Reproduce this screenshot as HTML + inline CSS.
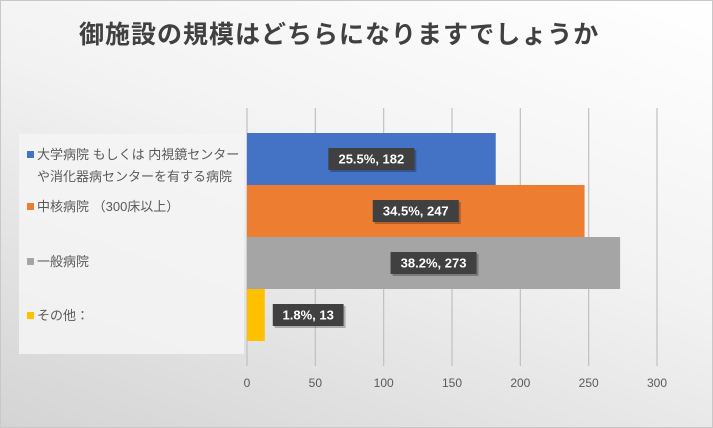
<!DOCTYPE html>
<html><head><meta charset="utf-8"><style>
body{margin:0}
#c{position:relative;width:713px;height:428px;overflow:hidden;background:linear-gradient(200deg,#ffffff 0%,#f2f2f2 45%,#d4d4d4 100%);border:1px solid #c8c8c8;box-sizing:border-box;font-family:"Liberation Sans","Noto Sans CJK JP",sans-serif}
#title{position:absolute;left:78px;top:14px;font-size:25px;font-weight:bold;color:#404040;letter-spacing:1px;white-space:nowrap}
#legend{position:absolute;left:18px;top:133px;width:225px;height:220px;background:rgba(245,245,245,0.85)}
.li{position:absolute;left:8px;font-size:13px;color:#595959;line-height:22px}
.sw{display:inline-block;width:7px;height:7px;margin-right:3px;vertical-align:1px}
</style></head><body>
<div id="c">
<div id="title">御施設の規模はどちらになりますでしょうか</div>
<div id="legend">
<div class="li" style="top:10px"><span class="sw" style="background:#4472c4"></span>大学病院 もしくは 内視鏡センター<br><span style="padding-left:10px">や消化器病センターを有する病院</span></div>
<div class="li" style="top:62px"><span class="sw" style="background:#ed7d31"></span>中核病院 （300床以上）</div>
<div class="li" style="top:117px"><span class="sw" style="background:#a5a5a5"></span>一般病院</div>
<div class="li" style="top:171px"><span class="sw" style="background:#ffc000"></span>その他：</div>
</div>
<svg id="svg" width="713" height="428" style="position:absolute;left:0;top:0"></svg>
</div>
<script>
const categories=["大学病院","中核病院","一般病院","その他"];
const values=[182,247,273,13];
const percents=["25.5%","34.5%","38.2%","1.8%"];
const colors=["#4472c4","#ed7d31","#a5a5a5","#ffc000"];
const ticks=[0,50,100,150,200,250,300];
const NS="http://www.w3.org/2000/svg";
const svg=document.getElementById('svg');
const x0=246,x1=656,xmax=300;
function xs(v){return x0+(x1-x0)*v/xmax;}
const top0=132,bandH=52;
function ys(i){return top0+i*bandH;}
function mk(t,a){const e=document.createElementNS(NS,t);for(const k in a)e.setAttribute(k,a[k]);svg.appendChild(e);return e;}
ticks.forEach(t=>{
 const l=mk('line',{x1:xs(t),x2:xs(t),y1:107,y2:365,stroke:'#c0c0c0','stroke-width':1.2});
 
 
 const tx=mk('text',{x:xs(t),y:386,'text-anchor':'middle','font-size':12,fill:'#595959','font-family':'Liberation Sans, sans-serif'});
 tx.textContent=t;
 
 
});
values.forEach((v,i)=>{
 const r=mk('rect',{x:xs(0),y:ys(i),width:xs(v)-xs(0),height:bandH,fill:colors[i]});
 
 
 const label=percents[i]+", "+v;
 const w=label.length*7.6+10,h=22;
 let cx=i===3?xs(v)+8+w/2:(xs(0)+xs(v))/2;
 const cy=ys(i)+bandH/2;
 const bg=mk('rect',{x:cx-w/2+2,y:cy-h/2+2,width:w,height:h,fill:'rgba(0,0,0,0.25)'});
 
 
 const b=mk('rect',{x:cx-w/2,y:cy-h/2,width:w,height:h,fill:'#404040'});
 
 
 const t=mk('text',{x:cx,y:cy+4.5,'text-anchor':'middle','font-size':13,'font-weight':'bold',fill:'#fff','font-family':'Liberation Sans, sans-serif'});
 t.textContent=label;
 
 
});
</script>
</body></html>
